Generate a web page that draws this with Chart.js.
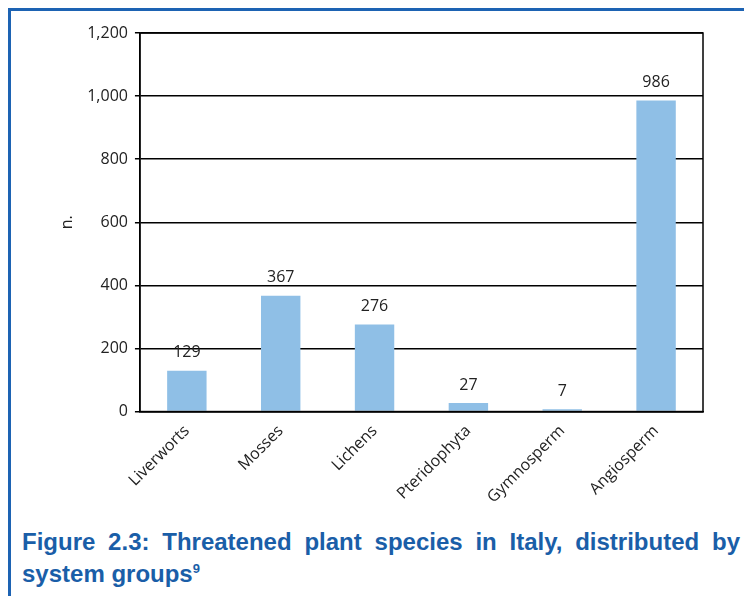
<!DOCTYPE html>
<html>
<head>
<meta charset="utf-8">
<script src="https://cdn.jsdelivr.net/npm/chart.js@4"></script>
<style>
  html, body { margin: 0; padding: 0; background: #fff; }
  body { width: 744px; height: 596px; position: relative; overflow: hidden; }
  .frame { position: absolute; left: 8px; top: 8px; width: 760px; height: 620px;
           border-left: 3px solid #1d63b3; border-top: 3px solid #1d63b3; }
  .wrap { position: absolute; left: 11px; top: 11px; width: 733px; height: 498px; }
  .caption { position: absolute; left: 22px; top: 526px; width: 718px;
             font-family: "Liberation Sans", Arial, sans-serif; font-weight: bold;
             font-size: 24px; line-height: 32px; color: #1a5ea8; text-align: justify; }
  .caption sup { font-size: 13px; vertical-align: 9px; line-height: 0; }
</style>
</head>
<body>
<div class="frame"></div>
<div class="wrap"><canvas id="chart"></canvas></div>
<div class="caption">Figure 2.3: Threatened plant species in Italy, distributed by system groups<sup>9</sup></div>
<script>
var categories = ['Liverworts', 'Mosses', 'Lichens', 'Pteridophyta', 'Gymnosperm', 'Angiosperm'];
var species = [129, 367, 276, 27, 7, 986];
var yTicks = [0, 200, 400, 600, 800, 1000, 1200];

var textFont = { family: '"Open Sans", "Noto Sans", sans-serif', size: 16 };

// value labels above each bar
var barLabels = {
  id: 'barLabels',
  afterDatasetsDraw: function(chart) {
    var ctx = chart.ctx;
    var meta = chart.getDatasetMeta(0);
    ctx.save();
    ctx.font = '16px ' + textFont.family;
    ctx.fillStyle = '#222';
    ctx.textAlign = 'center';
    ctx.textBaseline = 'bottom';
    meta.data.forEach(function(bar, i) {
      ctx.fillText(species[i], bar.x, bar.y - 10);
    });
    ctx.restore();
  }
};

// box round the plot area
var plotBox = {
  id: 'plotBox',
  afterDraw: function(chart) {
    var a = chart.chartArea, ctx = chart.ctx;
    ctx.save();
    ctx.strokeStyle = '#000';
    ctx.lineWidth = 1.5;
    ctx.strokeRect(a.left, a.top, a.right - a.left, a.bottom - a.top);
    ctx.restore();
  }
};

new Chart(document.getElementById('chart'), {
  type: 'bar',
  data: {
    labels: categories,
    datasets: [{
      data: species,
      backgroundColor: '#8fbfe6',
      categoryPercentage: 1,
      barPercentage: 0.42
    }]
  },
  options: {
    responsive: true,
    maintainAspectRatio: false,
    animation: false,
    layout: { padding: { top: 22, right: 41, left: 47, bottom: 0 } },
    plugins: { legend: { display: false }, tooltip: { enabled: false } },
    scales: {
      x: {
        grid: { display: false },
        border: { display: true, color: '#000', width: 1.5 },
        ticks: { color: '#222', font: textFont, maxRotation: 45, minRotation: 45, padding: 2 }
      },
      y: {
        min: 0, max: 1200,
        afterBuildTicks: function(axis) { axis.ticks = yTicks.map(function(v) { return { value: v }; }); },
        grid: { color: '#000', lineWidth: 1.5, tickLength: 5 },
        border: { display: true, color: '#000', width: 1.5 },
        ticks: { color: '#222', font: textFont, padding: 7,
                 callback: function(v) { return v.toLocaleString('en-US'); } },
        title: { display: true, text: 'n.', color: '#222', font: textFont, padding: { top: 0, bottom: 3 } }
      }
    }
  },
  plugins: [barLabels, plotBox]
});
</script>
</body>
</html>
